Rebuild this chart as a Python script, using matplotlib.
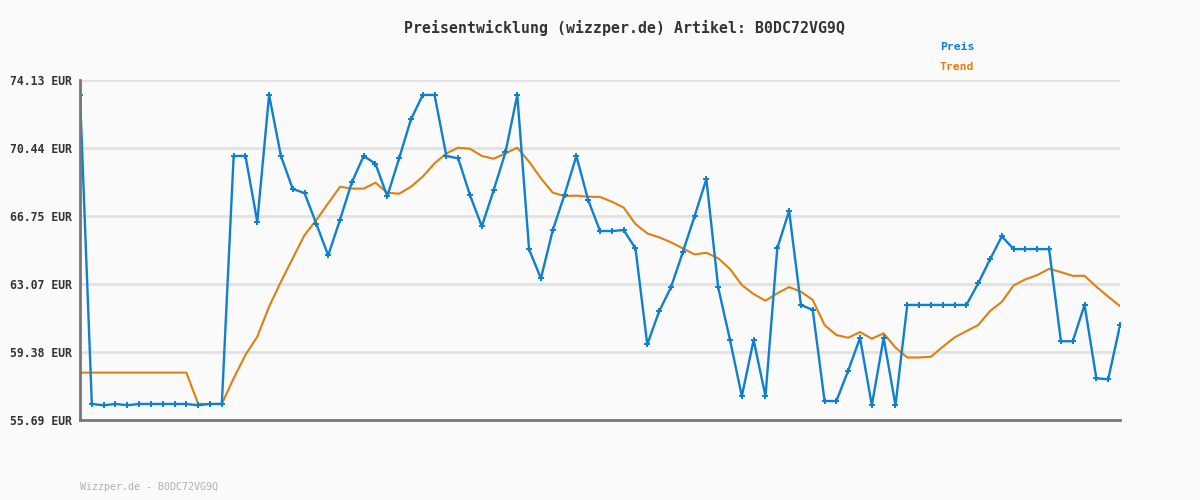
import matplotlib
matplotlib.use('agg')
import matplotlib.pyplot as plt
import numpy as np

# Price history (89 samples)
preis = [73.32, 56.56, 56.49, 56.56, 56.49, 56.56, 56.56, 56.56, 56.56, 56.56,
         56.49, 56.56, 56.56, 70.01, 70.01, 66.44, 73.32, 70.01, 68.22, 68.00,
         66.32, 64.62, 66.55, 68.58, 70.01, 69.59, 67.82, 69.88, 71.99, 73.32,
         73.32, 70.01, 69.88, 67.88, 66.19, 68.15, 70.21, 73.32, 64.94, 63.37,
         65.98, 67.91, 70.01, 67.62, 65.94, 65.94, 65.99, 65.00, 59.79, 61.58,
         62.88, 64.78, 66.74, 68.76, 62.88, 60.03, 56.98, 60.03, 56.98, 65.00,
         67.03, 61.93, 61.66, 56.72, 56.72, 58.37, 60.14, 56.49, 60.14, 56.49,
         61.93, 61.93, 61.93, 61.93, 61.93, 61.93, 63.10, 64.40, 65.65, 64.96,
         64.96, 64.96, 64.96, 59.96, 59.96, 61.93, 57.95, 57.90, 60.82]

trend = [58.26, 58.26, 58.26, 58.26, 58.26, 58.26, 58.26, 58.26, 58.26, 58.26,
         56.56, 56.56, 56.56, 57.95, 59.22, 60.21, 61.84, 63.19, 64.46, 65.72,
         66.54, 67.44, 68.34, 68.24, 68.24, 68.56, 68.02, 67.96, 68.34, 68.89,
         69.61, 70.15, 70.46, 70.40, 70.01, 69.86, 70.15, 70.46, 69.70, 68.80,
         68.02, 67.84, 67.86, 67.80, 67.79, 67.53, 67.21, 66.32, 65.81, 65.60,
         65.33, 65.00, 64.67, 64.76, 64.46, 63.88, 63.01, 62.52, 62.16, 62.56,
         62.90, 62.65, 62.20, 60.84, 60.30, 60.15, 60.46, 60.10, 60.39, 59.62,
         59.08, 59.08, 59.12, 59.66, 60.17, 60.51, 60.84, 61.60, 62.10, 62.99,
         63.32, 63.55, 63.89, 63.71, 63.51, 63.51, 62.92, 62.38, 61.87]

yticks = [55.69, 59.38, 63.07, 66.75, 70.44, 74.13]
ylabels = ['55.69 EUR', '59.38 EUR', '63.07 EUR', '66.75 EUR', '70.44 EUR', '74.13 EUR']

artikel = 'B0DC72VG9Q'
blau = '#0f7fcf'
orange = '#e07f10'
bg = '#fafafa'
font = 'DejaVu Sans Mono'

fig = plt.figure(figsize=(12, 5), dpi=100, facecolor=bg)
ax = fig.add_axes([80/1200, 1 - 420/500, 1040/1200, 340/500], facecolor=bg)

x = np.arange(len(preis))
ax.plot(x, trend, color=orange, lw=1.5, zorder=3)
ax.plot(x, preis, color=blau, lw=1.7, marker='+', ms=4, mew=1.4, zorder=4)

ax.set_xlim(0, len(preis) - 1)
ax.set_ylim(yticks[0], yticks[-1])
ax.set_yticks(yticks)
ax.set_yticklabels(ylabels, fontfamily=font, fontsize=8.3, fontweight='bold', color='#333333')
ax.set_xticks([])
ax.tick_params(axis='y', length=0, pad=6)
ax.grid(axis='y', color='#e2e2e2', lw=2, zorder=0)

for s in ['top', 'right']:
    ax.spines[s].set_visible(False)
for s in ['left', 'bottom']:
    ax.spines[s].set_color('#777777')
    ax.spines[s].set_linewidth(2)
    ax.spines[s].set_zorder(5)

fig.text(624/1200, 1 - 28/500, 'Preisentwicklung (wizzper.de) Artikel: ' + artikel,
         ha='center', va='center', fontfamily=font, fontsize=10.7, fontweight='bold', color='#333333')
fig.text(940/1200, 1 - 47/500, 'Preis', ha='left', va='center',
         fontfamily=font, fontsize=8.2, fontweight='bold', color=blau)
fig.text(940/1200, 1 - 67/500, 'Trend', ha='left', va='center',
         fontfamily=font, fontsize=8.2, fontweight='bold', color=orange)
fig.text(80/1200, 1 - 487/500, 'Wizzper.de - ' + artikel, ha='left', va='center',
         fontfamily=font, fontsize=7.2, color='#b0b0b0')

fig.savefig('out.png', dpi=100, facecolor=bg)
